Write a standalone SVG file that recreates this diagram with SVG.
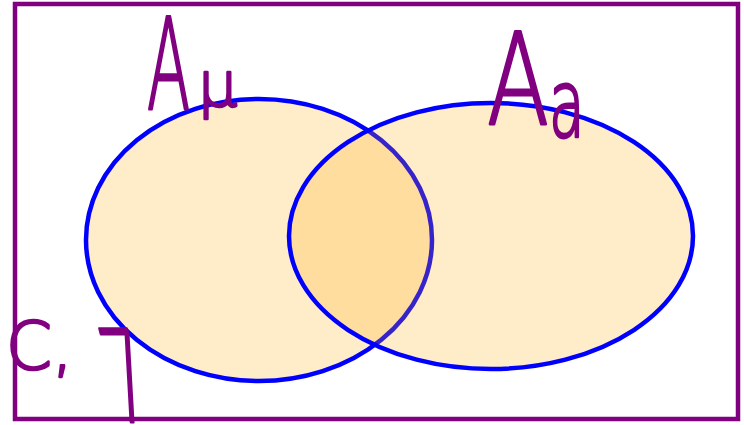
<svg xmlns="http://www.w3.org/2000/svg" width="744" height="425" viewBox="0 0 744 425">
<style>
.set{fill:#FFA500;fill-opacity:0.21;stroke:#0000FF;stroke-width:4.5}
.hw{fill:#800080;stroke:#800080;stroke-width:2.5;stroke-linejoin:round;vector-effect:non-scaling-stroke;font-family:"DejaVu Sans","Liberation Sans",sans-serif;font-weight:200}
</style>
<rect x="0" y="0" width="744" height="425" fill="#FFFFFF"/>
<g id="universe">
<rect x="15" y="4" width="723" height="415" fill="none" stroke="#800080" stroke-width="4.5"/>
</g>
<g id="setAmu">
<ellipse class="set" cx="259" cy="240" rx="173" ry="141"/>
</g>
<g id="setAa">
<ellipse class="set" cx="491" cy="236" rx="202" ry="133"/>
</g>
<g id="labels">
<text class="hw" font-size="126" transform="translate(147,109) scale(0.5,1)">A</text>
<text class="hw" x="198" y="106" font-size="62">μ</text>
<text class="hw" font-size="126" transform="translate(487,124) scale(0.72,1)">A</text>
<text class="hw" font-size="94" transform="translate(549,137) scale(0.62,1)">a</text>
<text class="hw" x="6" y="369" font-size="66">C,</text>
<text class="hw" font-size="128" transform="translate(117,422) skewX(14) scale(0.5,1)">7</text>
</g>
</svg>
